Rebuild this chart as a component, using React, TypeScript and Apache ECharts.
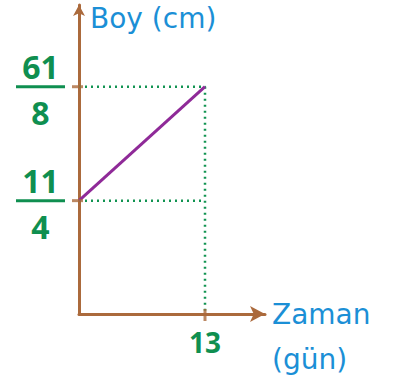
import React, { useEffect, useRef } from "react";
import * as echarts from "echarts";

const yTickValues = [2.75, 7.625];
const yTickNumerators = ["11", "61"];
const yTickDenominators = ["4", "8"];
const xTickValues = [13];
const xTickLabels = ["13"];
const lineStart = [0, 2.75];
const lineEnd = [13, 7.625];
const yAxisName = "Boy (cm)";
const xAxisNameLines = ["Zaman", "(gün)"];

const X_MIN = 0;
const X_MAX = 19.19;
const Y_MIN = -2.1;
const Y_MAX = 11.122;

const BROWN = "#ab6a3c";
const GREEN = "#0f8f50";
const DOT_GREEN = "#129452";
const BLUE = "#1b8fd6";
const PURPLE = "#8f2a98";

export default function App() {
  const ref = useRef<HTMLDivElement>(null);
  useEffect(() => {
    if (!ref.current) return;
    const chart = echarts.init(ref.current, null, { renderer: "svg" });
    const topY = yTickValues[yTickValues.length - 1];
    const topX = xTickValues[0];
    chart.setOption({
      animation: false,
      grid: { left: 79, top: 5, right: 137, bottom: 69, containLabel: false },
      xAxis: {
        type: "value",
        min: X_MIN,
        max: X_MAX,
        name: xAxisNameLines.map((s) => `{a|${s}}`).join("\n"),
        nameLocation: "end",
        nameGap: 7,
        nameTextStyle: {
          align: "left",
          verticalAlign: "middle",
          padding: [45, 0, 0, 0],
          rich: {
            a: {
              color: BLUE,
              fontFamily: "DejaVu Sans",
              fontSize: 28,
              lineHeight: 45,
            },
          },
        },
        axisLine: {
          onZero: false,
          symbol: ["none", "arrow"],
          symbolSize: [12, 15],
          lineStyle: { color: BROWN, width: 3 },
        },
        axisTick: { show: false },
        splitLine: { show: false },
        axisLabel: {
          customValues: xTickValues,
          formatter: (v: number) => {
            const i = xTickValues.indexOf(v);
            return i >= 0 ? xTickLabels[i] : "";
          },
          margin: 14,
          color: GREEN,
          fontFamily: "Noto Sans",
          fontWeight: "bold",
          fontSize: 28,
          lineHeight: 28,
        },
      },
      yAxis: {
        type: "value",
        min: Y_MIN,
        max: Y_MAX,
        name: yAxisName,
        nameLocation: "end",
        nameGap: -13,
        nameTextStyle: {
          color: BLUE,
          fontFamily: "DejaVu Sans",
          fontSize: 28,
          align: "left",
          verticalAlign: "middle",
          padding: [0, 0, 0, 11],
        },
        axisLine: {
          onZero: false,
          symbol: ["none", "arrow"],
          symbolSize: [9, 11],
          lineStyle: { color: BROWN, width: 3 },
        },
        axisTick: { show: false },
        splitLine: { show: false },
        axisLabel: {
          customValues: yTickValues,
          formatter: (v: number) => {
            const i = yTickValues.indexOf(v);
            if (i < 0) return "";
            return `{n|${yTickNumerators[i]}}\n{b| }\n{d|${yTickDenominators[i]}}`;
          },
          margin: 14,
          align: "right",
          verticalAlign: "middle",
          padding: [10, 0, 0, 0],
          rich: {
            n: {
              color: GREEN,
              fontFamily: "Noto Sans",
              fontWeight: "bold",
              fontSize: 32,
              lineHeight: 38,
              width: 49,
              align: "center",
            },
            b: {
              width: 49,
              height: 3,
              lineHeight: 3,
              fontSize: 3,
              backgroundColor: GREEN,
            },
            d: {
              color: GREEN,
              fontFamily: "Noto Sans",
              fontWeight: "bold",
              fontSize: 32,
              lineHeight: 48,
              width: 49,
              align: "center",
            },
          },
        },
      },
      series: [
        {
          type: "line",
          data: [
            [0, topY],
            [topX, topY],
            [topX, Y_MIN],
          ],
          symbol: "none",
          lineStyle: { color: DOT_GREEN, width: 2.5, type: [2, 4] },
          z: 1,
        },
        {
          type: "line",
          data: [
            [0, yTickValues[0]],
            [topX, yTickValues[0]],
          ],
          symbol: "none",
          lineStyle: { color: DOT_GREEN, width: 2.5, type: [2, 4] },
          z: 1,
        },
        {
          type: "line",
          data: [lineStart, lineEnd],
          symbol: "none",
          lineStyle: { color: PURPLE, width: 3 },
          z: 3,
        },
        {
          type: "scatter",
          data: yTickValues.map((v) => [0, v]),
          symbol: "rect",
          symbolSize: [11, 3],
          symbolOffset: [-1.5, 0],
          itemStyle: { color: BROWN },
          silent: true,
          z: 4,
        },
        {
          type: "scatter",
          data: xTickValues.map((v) => [v, Y_MIN]),
          symbol: "rect",
          symbolSize: [3, 12],
          symbolOffset: [0, 1],
          itemStyle: { color: BROWN },
          silent: true,
          z: 4,
        },
      ],
    });
    return () => chart.dispose();
  }, []);
  return (
    <div
      ref={ref}
      style={{ position: "fixed", left: 0, top: 0, width: 402, height: 383, background: "#fff" }}
    />
  );
}
